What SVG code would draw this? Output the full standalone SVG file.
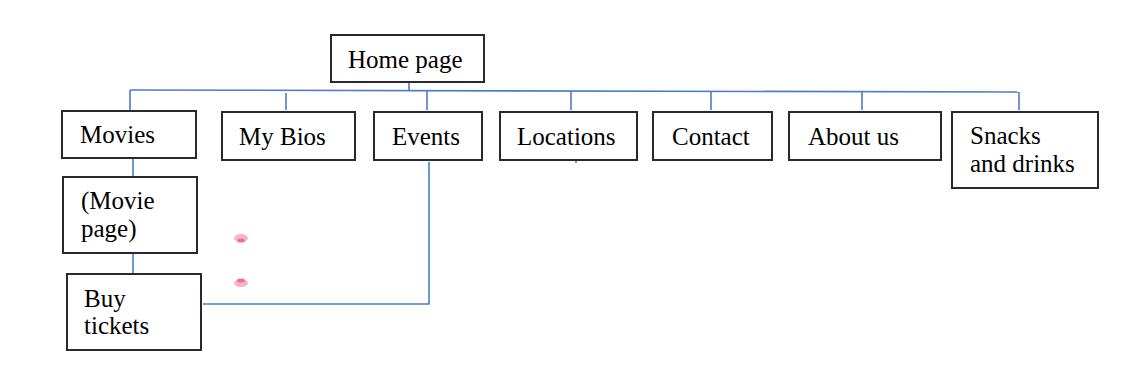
<svg xmlns="http://www.w3.org/2000/svg" width="1125" height="373" viewBox="0 0 1125 373">
<style>
.box{fill:#fff;stroke:#2a2a2a;stroke-width:2}
.lbl{font-family:"Liberation Serif","Times New Roman",serif;font-size:25px;fill:#000}
.con{stroke:#4a7cc9;stroke-width:1.6;fill:none}
</style>
<rect width="1125" height="373" fill="#fff"/>
<g id="connectors">
<line class="con" x1="409" y1="82" x2="409" y2="91"/>
<line class="con" x1="130" y1="90" x2="1019" y2="92"/>
<line class="con" x1="130" y1="90" x2="130" y2="110"/>
<line class="con" x1="286" y1="93" x2="286" y2="110"/>
<line class="con" x1="427" y1="91" x2="427" y2="110"/>
<line class="con" x1="571" y1="91" x2="571" y2="110"/>
<line class="con" x1="711" y1="91" x2="711" y2="110"/>
<line class="con" x1="862" y1="92" x2="862" y2="110"/>
<line class="con" x1="1019" y1="92" x2="1019" y2="110"/>
<line class="con" x1="576" y1="160" x2="576" y2="163"/>
<line class="con" x1="133" y1="158" x2="133" y2="177"/>
<line class="con" x1="133" y1="253" x2="133" y2="274"/>
<polyline class="con" points="203,304 429,304 429,162"/>
</g>
<g id="home"><rect class="box" x="331" y="35" width="153" height="47"/><text class="lbl" x="348" y="68">Home page</text></g>
<g id="movies"><rect class="box" x="62" y="111" width="134" height="47"/><text class="lbl" x="80" y="143">Movies</text></g>
<g id="mybios"><rect class="box" x="222" y="112" width="133" height="48"/><text class="lbl" x="239" y="145">My Bios</text></g>
<g id="events"><rect class="box" x="374" y="112" width="108" height="48"/><text class="lbl" x="392" y="145">Events</text></g>
<g id="locations"><rect class="box" x="500" y="112" width="137" height="48"/><text class="lbl" x="517" y="145">Locations</text></g>
<g id="contact"><rect class="box" x="653" y="112" width="119" height="48"/><text class="lbl" x="672" y="145">Contact</text></g>
<g id="aboutus"><rect class="box" x="789" y="112" width="152" height="48"/><text class="lbl" x="808" y="145">About us</text></g>
<g id="snacks"><rect class="box" x="952" y="112" width="146" height="76"/><text class="lbl" x="970" y="144">Snacks</text><text class="lbl" x="970" y="172">and drinks</text></g>
<g id="moviepage"><rect class="box" x="63" y="177" width="134" height="76"/><text class="lbl" x="81" y="209">(Movie</text><text class="lbl" x="81" y="237">page)</text></g>
<g id="buytickets"><rect class="box" x="67" y="274" width="134" height="76"/><text class="lbl" x="84" y="307">Buy</text><text class="lbl" x="84" y="334">tickets</text></g>
<g id="dots">
<ellipse cx="241" cy="238" rx="7" ry="4" fill="#f9b3c8"/>
<ellipse cx="241" cy="240.5" rx="4" ry="2" fill="#ef6f98"/>
<ellipse cx="241" cy="283" rx="7" ry="4" fill="#f9b3c8"/>
<ellipse cx="241" cy="280.5" rx="4" ry="2" fill="#ef6f98"/>
</g>
</svg>
